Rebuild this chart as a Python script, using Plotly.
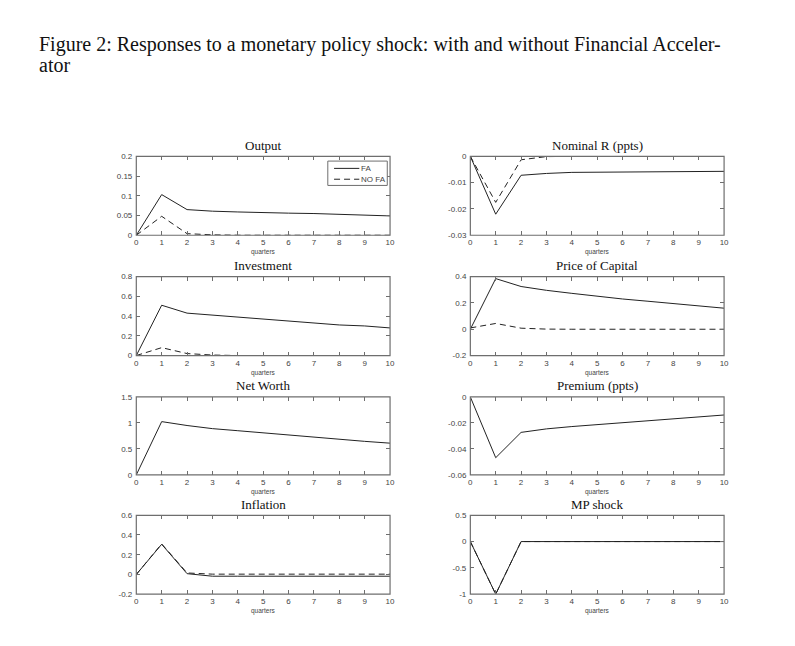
import plotly.graph_objects as go

quarters = list(range(11))

output_fa = [0, 0.103, 0.065, 0.061, 0.059, 0.057, 0.056, 0.055, 0.053, 0.050, 0.049]
output_nofa = [0, 0.048, 0.004, 0.001, 0, 0, 0, 0, 0, 0, 0]
nomr_fa = [0, -0.022, -0.0072, -0.0065, -0.0061, -0.0060, -0.0060, -0.0060, -0.0059, -0.0058, -0.0057]
nomr_nofa = [0, -0.0175, -0.0013, -0.0001, 0, 0, 0, 0, 0, 0, 0]
inv_fa = [0, 0.51, 0.43, 0.41, 0.39, 0.37, 0.35, 0.33, 0.31, 0.30, 0.28]
inv_nofa = [0, 0.08, 0.02, 0.005, 0, 0, 0, 0, 0, 0, 0]
pk_fa = [0, 0.385, 0.325, 0.296, 0.273, 0.25, 0.23, 0.213, 0.195, 0.178, 0.16]
pk_nofa = [0.01, 0.044, 0.008, 0.001, 0, 0, 0, 0, 0, 0, 0]
nw_fa = [0, 1.025, 0.95, 0.89, 0.85, 0.807, 0.763, 0.72, 0.682, 0.645, 0.61]
prem_fa = [0, -0.0468, -0.0273, -0.0246, -0.0228, -0.0213, -0.0195, -0.018, -0.0167, -0.0152, -0.0139]
infl_fa = [0, 0.306, 0.008, -0.018, -0.018, -0.018, -0.018, -0.018, -0.018, -0.018, -0.018]
infl_nofa = [0, 0.31, 0.015, 0.003, 0.003, 0.003, 0.003, 0.003, 0.003, 0.003, 0.003]
mp_fa = [0, -1, 0, 0, 0, 0, 0, 0, 0, 0, 0]
mp_nofa = [0, -1, 0, 0, 0, 0, 0, 0, 0, 0, 0]

titles = ["Output", "Nominal R (ppts)", "Investment", "Price of Capital",
          "Net Worth", "Premium (ppts)", "Inflation", "MP shock"]
legend_names = ["FA", "NO FA"]

ytick_vals = [
    [0, 0.05, 0.1, 0.15, 0.2],
    [-0.03, -0.02, -0.01, 0],
    [0, 0.2, 0.4, 0.6, 0.8],
    [-0.2, 0, 0.2, 0.4],
    [0, 0.5, 1, 1.5],
    [-0.06, -0.04, -0.02, 0],
    [-0.2, 0, 0.2, 0.4, 0.6],
    [-1, -0.5, 0, 0.5],
]
ytick_text = [
    ["0", "0.05", "0.1", "0.15", "0.2"],
    ["-0.03", "-0.02", "-0.01", "0"],
    ["0", "0.2", "0.4", "0.6", "0.8"],
    ["-0.2", "0", "0.2", "0.4"],
    ["0", "0.5", "1", "1.5"],
    ["-0.06", "-0.04", "-0.02", "0"],
    ["-0.2", "0", "0.2", "0.4", "0.6"],
    ["-1", "-0.5", "0", "0.5"],
]

series = [
    (output_fa, output_nofa),
    (nomr_fa, nomr_nofa),
    (inv_fa, inv_nofa),
    (pk_fa, pk_nofa),
    (nw_fa, None),
    (prem_fa, None),
    (infl_fa, infl_nofa),
    (mp_fa, mp_nofa),
]

W, H = 795, 646
col_px = [(135.5, 391.5), (472.5, 728.5)]
row_px = [(154.5, 234.5), (276.5, 356.5), (398.5, 477.5), (518.5, 598.5)]

axis_col = "#6e6e6e"
line_col = "#222"
dash_style = "6px,4px"
tick_font = dict(family="Liberation Sans, Arial", size=8, color="#444")
serif = "Liberation Serif, Times New Roman"

fig = go.Figure()
annotations = []
shapes = []

for i in range(8):
    n = i + 1
    r, c = divmod(i, 2)
    xs = "" if n == 1 else str(n)
    fa, nofa = series[i]
    fig.add_trace(go.Scatter(
        x=quarters, y=fa, mode="lines", name=legend_names[0],
        line=dict(color=line_col, width=1),
        xaxis="x" + xs, yaxis="y" + xs, showlegend=False,
    ))
    if nofa is not None:
        fig.add_trace(go.Scatter(
            x=quarters, y=nofa, mode="lines", name=legend_names[1],
            line=dict(color=line_col, width=1, dash=dash_style),
            xaxis="x" + xs, yaxis="y" + xs, showlegend=False,
        ))
    x0, x1 = col_px[c]
    y0, y1 = row_px[r]
    yv = ytick_vals[i]
    common = dict(
        ticks="inside", ticklen=4, tickcolor=axis_col, mirror="ticks",
        showline=False, layer="above traces",
        showgrid=False, zeroline=False, tickfont=tick_font,
    )
    fig.layout["xaxis" + xs] = dict(
        domain=[x0 / W, x1 / W], anchor="y" + xs, range=[0, 10],
        tickmode="array", tickvals=quarters, ticktext=[str(q) for q in quarters],
        ticklabelstandoff=1, **common,
    )
    fig.layout["yaxis" + xs] = dict(
        domain=[1 - y1 / H, 1 - y0 / H], anchor="x" + xs, range=[yv[0], yv[-1]],
        tickmode="array", tickvals=yv, ticktext=ytick_text[i],
        ticklabelstandoff=3, **common,
    )
    # Matlab-style box drawn on top of the data
    shapes.append(dict(
        type="rect", xref="x" + xs + " domain", yref="y" + xs + " domain",
        x0=0, x1=1, y0=0, y1=1, layer="above",
        line=dict(color=axis_col, width=1.2),
    ))
    annotations.append(dict(
        text=titles[i], xref="x" + xs + " domain", yref="y" + xs + " domain",
        x=0.5, y=1, yshift=11, showarrow=False, yanchor="middle",
        font=dict(family=serif, size=13, color="#111"),
    ))
    annotations.append(dict(
        text="quarters", xref="x" + xs + " domain", yref="y" + xs + " domain",
        x=0.5, y=0, yshift=-17, showarrow=False, yanchor="middle",
        font=dict(family="Liberation Sans, Arial", size=6.5, color="#444"),
    ))

# legend box inside the Output panel
shapes.append(dict(type="rect", xref="paper", yref="paper",
                   x0=328.7 / W, x1=388.7 / W, y0=1 - 184 / H, y1=1 - 159.3 / H,
                   line=dict(color=axis_col, width=1), fillcolor="white"))
for k, (ly, dash) in enumerate([(166.7, "solid"), (177.7, dash_style)]):
    shapes.append(dict(type="line", xref="paper", yref="paper",
                       x0=335 / W, x1=360.5 / W, y0=1 - ly / H, y1=1 - ly / H,
                       line=dict(color=line_col, width=1, dash=dash)))
    annotations.append(dict(
        text=legend_names[k], xref="paper", yref="paper", x=361 / W, y=1 - ly / H,
        xanchor="left", yanchor="middle", showarrow=False, borderpad=0,
        font=dict(family="Liberation Sans, Arial", size=8, color="#444"),
    ))

annotations.append(dict(
    text="Figure 2: Responses to a monetary policy shock: with and without Financial Acceler-",
    xref="paper", yref="paper", x=35 / W, y=1 - 41 / H, xanchor="left", yanchor="middle",
    showarrow=False, font=dict(family=serif, size=20, color="#111"),
))
annotations.append(dict(
    text="ator",
    xref="paper", yref="paper", x=35 / W, y=1 - 62 / H, xanchor="left", yanchor="middle",
    showarrow=False, font=dict(family=serif, size=20, color="#111"),
))

fig.update_layout(
    width=W, height=H, margin=dict(l=0, r=0, t=0, b=0),
    paper_bgcolor="white", plot_bgcolor="white",
    annotations=annotations, shapes=shapes, showlegend=False,
)

fig.write_html("out.html", config={"displayModeBar": False},
               post_script="document.body.style.margin='0px';")
